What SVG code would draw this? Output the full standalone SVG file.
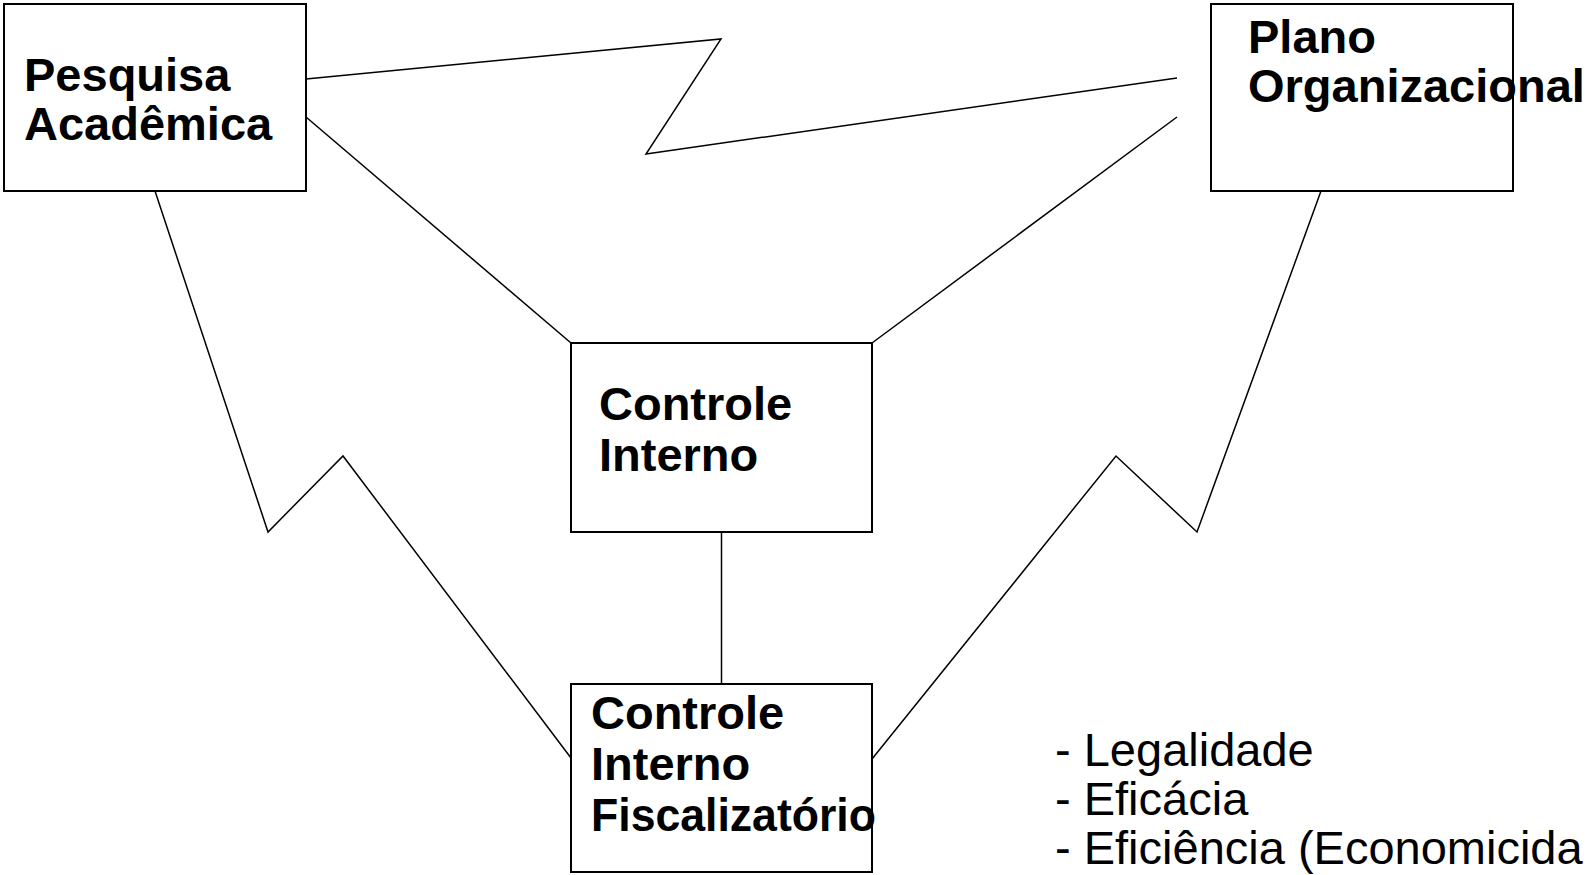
<svg xmlns="http://www.w3.org/2000/svg" width="1592" height="875" viewBox="0 0 1592 875">
<style>
.box{fill:#fff;stroke:#000;stroke-width:2}
.ln{fill:none;stroke:#000;stroke-width:1.5;stroke-linejoin:miter}
.t{font-family:"Liberation Sans",Arial,sans-serif;font-size:47px;font-weight:bold;fill:#000}
.r{font-family:"Liberation Sans",Arial,sans-serif;font-size:47px;fill:#000}
</style>
<rect width="1592" height="875" fill="#fff"/>
<g id="connectors">
<polyline class="ln" points="306,79 721,39 646,154 1177,78"/>
<line class="ln" x1="1177" y1="117" x2="872" y2="343"/>
<line class="ln" x1="306" y1="117" x2="571" y2="343"/>
<line class="ln" x1="721.5" y1="532" x2="721.5" y2="683"/>
<polyline class="ln" points="155,191 268,532 343,456 571,758"/>
<polyline class="ln" points="1321,191 1197,532 1116,456 872,759"/>
</g>
<g id="pesquisa">
<rect class="box" x="4" y="4" width="302" height="187"/>
<text class="t" x="24" y="91">Pesquisa</text>
<text class="t" x="24" y="140">Acadêmica</text>
</g>
<g id="plano">
<rect class="box" x="1211" y="4" width="302" height="187"/>
<text class="t" x="1248" y="53">Plano</text>
<text class="t" x="1248" y="102">Organizacional</text>
</g>
<g id="controle-interno">
<rect class="box" x="571" y="343" width="301" height="189"/>
<text class="t" x="599" y="420">Controle</text>
<text class="t" x="599" y="471">Interno</text>
</g>
<g id="controle-fiscalizatorio">
<rect class="box" x="571" y="684" width="301" height="188"/>
<text class="t" x="591" y="729">Controle</text>
<text class="t" x="591" y="780">Interno</text>
<text class="t" x="591" y="831" textLength="285" lengthAdjust="spacingAndGlyphs">Fiscalizatório</text>
</g>
<g id="criterios">
<text class="r" x="1055" y="766">- Legalidade</text>
<text class="r" x="1055" y="815">- Eficácia</text>
<text class="r" x="1055" y="864">- Eficiência (Economicida</text>
</g>
</svg>
